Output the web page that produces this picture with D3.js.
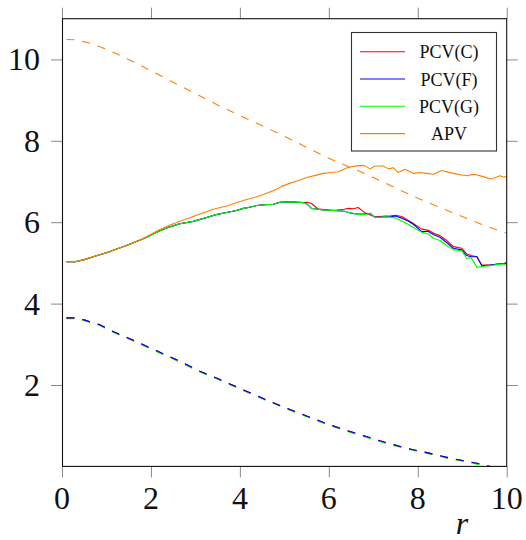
<!DOCTYPE html>
<html>
<head>
<meta charset="utf-8">
<script src="https://cdn.jsdelivr.net/npm/d3@7"></script>
<style>
  body { margin: 0; background: #fff; }
  svg { display: block; }
  text { font-family: "Liberation Serif", "DejaVu Serif", "Noto Serif", serif; fill: #111; }
</style>
</head>
<body>
<svg id="canvas" width="526" height="540"></svg>
<script>
// x ticks / y ticks
const xTicks = [0, 2, 4, 6, 8, 10];
const yTicks = [2, 4, 6, 8, 10];
const legendLabels = ["PCV(C)", "PCV(F)", "PCV(G)", "APV"];

// APV dashed (upper)
const apvDashR = [0.1, 0.3, 0.6, 1, 1.5, 2, 2.5, 3, 3.5, 4, 4.5, 5, 5.5, 6, 6.5, 7, 7.5, 8, 8.5, 9, 9.5, 10];
const apvDashV = [10.49, 10.48, 10.41, 10.25, 10.0, 9.72, 9.44, 9.16, 8.88, 8.62, 8.37, 8.11, 7.84, 7.57, 7.34, 7.10, 6.84, 6.59, 6.36, 6.14, 5.92, 5.73];

// APV solid
const apvR = [0.1, 0.3, 0.5, 0.7, 1.0, 1.45, 1.8, 2.2, 2.43, 2.7, 2.95, 3.2, 3.4, 3.7, 3.9, 4.15, 4.4, 4.6, 4.8, 4.94, 5.13, 5.3, 5.5, 5.7, 5.88, 6.05, 6.21, 6.3, 6.44, 6.66, 6.8, 6.93, 7.04, 7.22, 7.34, 7.45, 7.56, 7.71, 7.9, 8.05, 8.2, 8.35, 8.54, 8.68, 8.8, 8.99, 9.14, 9.2, 9.29, 9.47, 9.62, 9.75, 9.85, 9.93, 10];
const apvV = [5.03, 5.03, 5.08, 5.15, 5.25, 5.43, 5.59, 5.82, 5.93, 6.04, 6.14, 6.24, 6.32, 6.40, 6.47, 6.56, 6.63, 6.71, 6.80, 6.88, 6.96, 7.02, 7.10, 7.15, 7.20, 7.22, 7.24, 7.28, 7.35, 7.39, 7.39, 7.31, 7.38, 7.38, 7.31, 7.34, 7.22, 7.30, 7.20, 7.22, 7.20, 7.18, 7.27, 7.23, 7.20, 7.16, 7.14, 7.17, 7.17, 7.12, 7.06, 7.10, 7.14, 7.11, 7.12];

// PCV solid
const pcvR = [0.1, 0.3, 0.5, 0.7, 1.0, 1.45, 1.8, 2.2, 2.35, 2.65, 2.95, 3.33, 3.44, 3.7, 3.9, 4.08, 4.19, 4.38, 4.55, 4.75, 4.9, 5.13, 5.3, 5.43, 5.52, 5.61, 5.75, 5.88, 6.05, 6.18, 6.35, 6.44, 6.55, 6.66, 6.8, 6.93, 7.04, 7.15, 7.26, 7.4, 7.5, 7.64, 7.78, 7.9, 8.09, 8.24, 8.36, 8.5, 8.63, 8.8, 8.99, 9.1, 9.2, 9.33, 9.44, 9.63, 9.85, 9.95, 10];
const pcvC = [5.03, 5.03, 5.08, 5.15, 5.25, 5.43, 5.58, 5.79, 5.86, 5.96, 6.02, 6.14, 6.18, 6.24, 6.28, 6.34, 6.36, 6.41, 6.43, 6.44, 6.49, 6.50, 6.49, 6.48, 6.49, 6.46, 6.33, 6.31, 6.29, 6.30, 6.32, 6.34, 6.33, 6.36, 6.24, 6.18, 6.13, 6.14, 6.15, 6.16, 6.17, 6.14, 6.05, 5.97, 5.83, 5.80, 5.73, 5.67, 5.57, 5.40, 5.36, 5.22, 5.18, 5.15, 4.95, 4.95, 4.98, 4.99, 5.00];
const pcvF = [5.03, 5.03, 5.08, 5.15, 5.25, 5.43, 5.58, 5.79, 5.86, 5.96, 6.02, 6.14, 6.18, 6.24, 6.28, 6.34, 6.36, 6.41, 6.43, 6.44, 6.49, 6.50, 6.49, 6.48, 6.44, 6.34, 6.32, 6.30, 6.29, 6.28, 6.27, 6.24, 6.21, 6.20, 6.20, 6.22, 6.12, 6.12, 6.13, 6.14, 6.15, 6.10, 6.03, 5.95, 5.77, 5.77, 5.69, 5.63, 5.52, 5.36, 5.32, 5.18, 5.15, 5.15, 4.93, 4.95, 4.98, 4.99, 5.00];
const pcvG = [5.03, 5.03, 5.08, 5.15, 5.25, 5.43, 5.58, 5.79, 5.86, 5.96, 6.02, 6.14, 6.18, 6.24, 6.28, 6.34, 6.36, 6.41, 6.43, 6.44, 6.49, 6.50, 6.49, 6.48, 6.44, 6.34, 6.32, 6.30, 6.29, 6.28, 6.27, 6.24, 6.22, 6.19, 6.19, 6.22, 6.11, 6.12, 6.13, 6.12, 6.10, 6.03, 5.95, 5.87, 5.75, 5.71, 5.60, 5.55, 5.44, 5.32, 5.30, 5.11, 5.13, 4.89, 4.91, 4.93, 4.97, 4.97, 4.93];

// PCV dashed (lower)
const lowR = [0.1, 0.3, 0.5, 0.85, 1.12, 1.5, 2.13, 2.5, 3.1, 3.5, 4.08, 4.5, 5.05, 5.5, 6.03, 6.5, 7.15, 7.7, 8.28, 8.7, 9.17, 9.4, 9.62, 10];
const lowC = [3.65, 3.65, 3.60, 3.48, 3.33, 3.15, 2.84, 2.66, 2.34, 2.16, 1.88, 1.68, 1.43, 1.24, 1.02, 0.85, 0.63, 0.46, 0.32, 0.21, 0.11, 0.06, 0.00, -0.08];
const lowF = [3.65, 3.65, 3.60, 3.48, 3.33, 3.15, 2.84, 2.66, 2.34, 2.16, 1.88, 1.68, 1.43, 1.24, 1.02, 0.85, 0.63, 0.46, 0.32, 0.21, 0.11, 0.06, 0.00, -0.08];
const lowG = [3.63, 3.63, 3.58, 3.46, 3.31, 3.13, 2.82, 2.64, 2.32, 2.14, 1.86, 1.66, 1.41, 1.22, 1.00, 0.83, 0.61, 0.44, 0.30, 0.19, 0.09, 0.04, -0.02, -0.10];

const colC = "#ff0000", colF = "#0000ff", colG = "#00ff00", colA = "#ff8000";

const svg = d3.select("#canvas");
const plotLeft = 62, plotRight = 506.7, plotTop = 18.7, plotBottom = 466.4;

const x = d3.scaleLinear().domain([0, 10]).range([plotLeft, plotRight]);
const y = d3.scaleLinear().domain([0, 11]).range([plotBottom, plotTop]);

svg.append("defs").append("clipPath").attr("id", "plotclip")
  .append("rect")
  .attr("x", plotLeft).attr("y", plotTop)
  .attr("width", plotRight - plotLeft).attr("height", plotBottom - plotTop);

// ticks (outside, all four sides)
const tickCol = "#8a8a8a", tickLen = 11;
function tickAxis(axis, tx, ty, vals) {
  svg.append("g").attr("transform", `translate(${tx},${ty})`)
    .call(axis.tickValues(vals).tickSize(tickLen).tickFormat(""))
    .call(g => g.select(".domain").remove())
    .call(g => g.selectAll("line").attr("stroke", tickCol));
}
tickAxis(d3.axisBottom(x), 0, plotBottom, xTicks);
tickAxis(d3.axisTop(x), 0, plotTop, xTicks);
tickAxis(d3.axisLeft(y), plotLeft, 0, yTicks);
tickAxis(d3.axisRight(y), plotRight, 0, yTicks);

// tick labels
svg.append("g").selectAll("text").data(xTicks).join("text")
  .attr("x", d => x(d)).attr("y", 509)
  .attr("text-anchor", "middle")
  .attr("font-size", 32)
  .text(d => d);
svg.append("g").selectAll("text").data(yTicks).join("text")
  .attr("x", 40).attr("y", d => y(d) + 11)
  .attr("text-anchor", "end")
  .attr("font-size", 32)
  .text(d => d);

svg.append("text")
  .attr("x", 462).attr("y", 534)
  .attr("text-anchor", "middle")
  .attr("font-size", 32)
  .attr("font-style", "italic")
  .text("r");

// curves
const plot = svg.append("g").attr("clip-path", "url(#plotclip)");
const line = d3.line().x(d => x(d[0])).y(d => y(d[1]));
function draw(rs, vs, col, dashed) {
  plot.append("path")
    .attr("d", line(d3.zip(rs, vs)))
    .attr("fill", "none")
    .attr("stroke", col)
    .attr("stroke-width", 1.1)
    .attr("stroke-linejoin", "round")
    .attr("stroke-dasharray", dashed ? "8 8" : null);
}

draw(lowR, lowG, colG, true);
draw(lowR, lowC, colC, true);
draw(lowR, lowF, colF, true);
draw(pcvR, pcvC, colC, false);
draw(pcvR, pcvF, colF, false);
draw(pcvR, pcvG, colG, false);
draw(apvR, apvV, colA, false);
draw(apvDashR, apvDashV, colA, true);

// frame
svg.append("rect")
  .attr("x", plotLeft + 0.5).attr("y", plotTop)
  .attr("width", plotRight - plotLeft - 0.5).attr("height", plotBottom - plotTop)
  .attr("fill", "none")
  .attr("stroke", "#111")
  .attr("stroke-width", 1.1);

// legend
const legend = svg.append("g");
legend.append("rect")
  .attr("x", 351.5).attr("y", 32.5)
  .attr("width", 145).attr("height", 118.5)
  .attr("fill", "#fff")
  .attr("stroke", "#333")
  .attr("stroke-width", 1.1);
const legendCols = [colC, colF, colG, colA];
legendLabels.forEach((lab, i) => {
  const ly = 51.7 + i * 27.3;
  legend.append("line")
    .attr("x1", 360).attr("x2", 405)
    .attr("y1", ly).attr("y2", ly)
    .attr("stroke", legendCols[i])
    .attr("stroke-width", 1.1);
  legend.append("text")
    .attr("x", 449).attr("y", ly + 6.5)
    .attr("text-anchor", "middle")
    .attr("font-size", 18)
    .text(lab);
});
</script>
</body>
</html>
